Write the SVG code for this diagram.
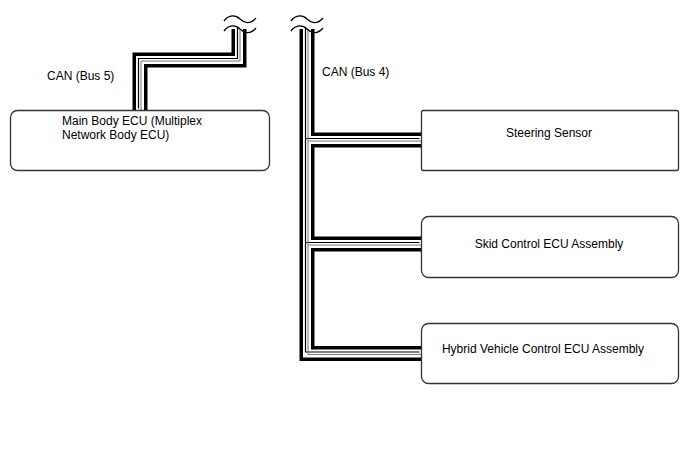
<svg xmlns="http://www.w3.org/2000/svg" width="688" height="463" viewBox="0 0 688 463">
<style>
.box{fill:#fff;stroke:#333;stroke-width:1.3}
.t{font-family:"Liberation Sans",Arial,sans-serif;font-size:12px;fill:#000}
.b1{fill:none;stroke:#000;stroke-width:15;stroke-linejoin:miter}
.b2{fill:none;stroke:#fff;stroke-width:8;stroke-linejoin:miter}
.b3{fill:none;stroke:#000;stroke-width:1.2}
.b4{fill:none;stroke:#777;stroke-width:1}
.tl{fill:none;stroke:#000;stroke-width:1.3}
</style>
<defs>
<path id="busL" d="M140,110 V60 H239 V29"/>
<path id="busT" d="M307,29 V353.5 H421"/>
<path id="br1" d="M307,140 H421"/>
<path id="br2" d="M307,244 H421"/>
</defs>
<g id="connectors">
<use href="#busL" class="b1"/><use href="#busT" class="b1"/><use href="#br1" class="b1"/><use href="#br2" class="b1"/>
<use href="#busL" class="b2"/><use href="#busT" class="b2"/><use href="#br1" class="b2"/><use href="#br2" class="b2"/>
<g transform="translate(-1.5,-1.5)"><use href="#busL" class="b3"/><use href="#busT" class="b3"/><use href="#br1" class="b3"/><use href="#br2" class="b3"/></g>
<g transform="translate(1,1)"><use href="#busL" class="b4"/><use href="#busT" class="b4"/><use href="#br1" class="b4"/><use href="#br2" class="b4"/></g>
<path class="tl" d="M224,21 C229,14 236,15 240,19 S250,25 256,18"/>
<path class="tl" d="M224,31 C229,24 236,25 240,29 S250,35 256,28"/>
<path class="tl" d="M291,21 C296,14 303,15 307,19 S317,25 323,18"/>
<path class="tl" d="M291,31 C296,24 303,25 307,29 S317,35 323,28"/>
<text class="t" x="47" y="80">CAN (Bus 5)</text>
<text class="t" x="322" y="76">CAN (Bus 4)</text>
</g>
<g id="main-body-ecu">
<rect class="box" x="10.5" y="110.5" width="259" height="60" rx="7"/>
<text class="t" x="62" y="125">Main Body ECU (Multiplex</text>
<text class="t" x="62" y="139">Network Body ECU)</text>
</g>
<g id="steering-sensor">
<rect class="box" x="421.5" y="110.5" width="257" height="60" rx="2"/>
<text class="t" x="549" y="137" text-anchor="middle">Steering Sensor</text>
</g>
<g id="skid-control-ecu">
<rect class="box" x="421.5" y="216.5" width="257" height="61" rx="7"/>
<text class="t" x="549" y="248" text-anchor="middle">Skid Control ECU Assembly</text>
</g>
<g id="hybrid-vehicle-ecu">
<rect class="box" x="421.5" y="323.5" width="257" height="60" rx="7"/>
<text class="t" x="543" y="353" text-anchor="middle">Hybrid Vehicle Control ECU Assembly</text>
</g>
</svg>
